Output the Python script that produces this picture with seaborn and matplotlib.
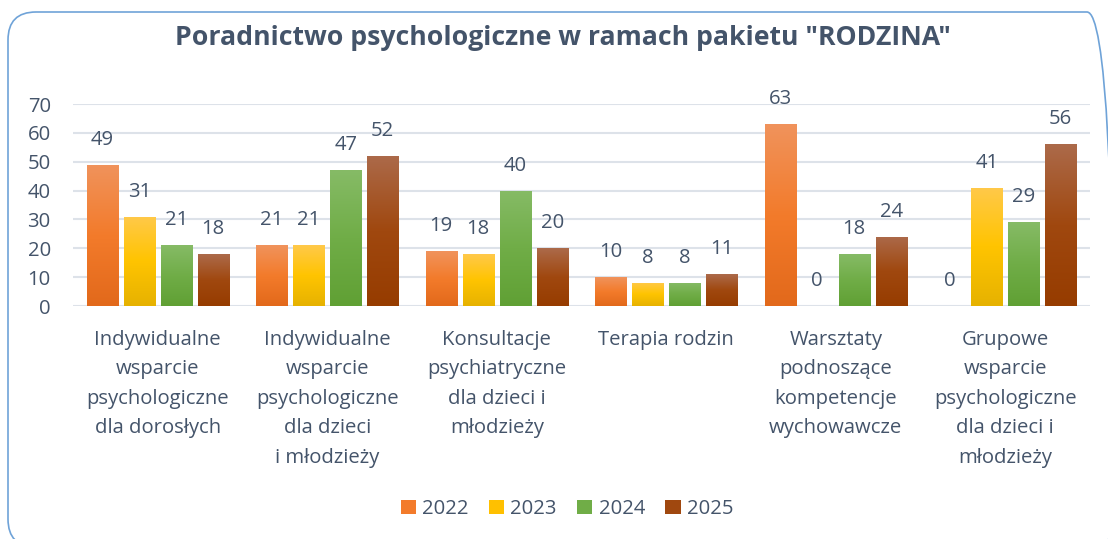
import numpy as np
import pandas as pd
import matplotlib
matplotlib.use("Agg")
import matplotlib.pyplot as plt
from matplotlib.patches import FancyBboxPatch, Patch
from matplotlib.colors import to_rgb
import seaborn as sns

# ---------------- data ----------------
categories = [
    "Indywidualne\nwsparcie\npsychologiczne\ndla dorosłych",
    "Indywidualne\nwsparcie\npsychologiczne\ndla dzieci\ni młodzieży",
    "Konsultacje\npsychiatryczne\ndla dzieci i\nmłodzieży",
    "Terapia rodzin",
    "Warsztaty\npodnoszące\nkompetencje\nwychowawcze",
    "Grupowe\nwsparcie\npsychologiczne\ndla dzieci i\nmłodzieży",
]
years = ["2022", "2023", "2024", "2025"]
values_2022 = [49, 21, 19, 10, 63, 0]
values_2023 = [31, 21, 18, 8, 0, 41]
values_2024 = [21, 47, 40, 8, 18, 29]
values_2025 = [18, 52, 20, 11, 24, 56]
y_ticks = [0, 10, 20, 30, 40, 50, 60, 70]
title = 'Poradnictwo psychologiczne w ramach pakietu "RODZINA"'

series = {"2022": values_2022, "2023": values_2023,
          "2024": values_2024, "2025": values_2025}
df = pd.DataFrame([
    {"category": c, "year": y, "value": v}
    for y in years for c, v in zip(categories, series[y])
])

# ---------------- style ----------------
base_colors = {"2022": "#F37B2B", "2023": "#FFC000", "2024": "#70AD47", "2025": "#A0480F"}
grad_stops = {
    "2022": ("#F0935C", "#F37B2B", "#E2691B"),
    "2023": ("#FFC94A", "#FFC400", "#E6B200"),
    "2024": ("#86BB66", "#70AD47", "#60A034"),
    "2025": ("#AC6A4A", "#A0480F", "#963C00"),
}
text_color = "#44546A"
grid_color = "#DDE2E9"

sns.set_theme(style="white")
plt.rcParams["font.family"] = ["Open Sans", "DejaVu Sans"]
FS = 14.6

W, H, DPI = 1108, 539, 100
fig = plt.figure(figsize=(W / DPI, H / DPI), dpi=DPI, facecolor="white")

# rounded frame (extends past right / bottom edge as in the reference)
frame = FancyBboxPatch((8 / DPI, -8 / DPI), (1115 - 8) / DPI, (H - 12 + 8) / DPI,
                       boxstyle="round,pad=0,rounding_size=0.28",
                       transform=fig.dpi_scale_trans, facecolor="none",
                       edgecolor="#6FA3D8", linewidth=1.2, zorder=0)
fig.patches.append(frame)

ax = fig.add_axes([73 / W, 1 - 306 / H, (1090 - 73) / W, (306 - 104) / H])

sns.barplot(data=df, x="category", y="value", hue="year", order=categories,
            hue_order=years, palette=base_colors, width=0.873, gap=0.16,
            saturation=1, legend=False, ax=ax, errorbar=None)

ax.set_ylim(0, 70)
xlim = ax.get_xlim()

# gradient fill per bar
def grad_img(stops, n=200):
    c = np.array([to_rgb(s) for s in stops])
    t = np.linspace(0, 1, n)
    img = np.empty((n, 1, 3))
    for k in range(3):
        img[:, 0, k] = np.interp(t, [0, 0.5, 1], c[:, k])
    return img

for yr, cont in zip(years, ax.containers):
    img = grad_img(grad_stops[yr])
    for bar, v in zip(cont, series[yr]):
        bar.set_edgecolor("none")
        x0 = bar.get_x()
        w = bar.get_width()
        h = bar.get_height()
        if h > 0:
            im = ax.imshow(img, extent=[x0, x0 + w, 0, h], origin="upper",
                           aspect="auto", zorder=3, interpolation="bilinear")
            im.set_clip_path(bar)
        ax.annotate(f"{v}", (x0 + w / 2, h), xytext=(0, 25),
                    textcoords="offset pixels", ha="center", va="center",
                    fontsize=FS, color=text_color, zorder=4)

ax.set_xlim(xlim)
ax.set_ylim(0, 70)
ax.set_yticks(y_ticks)
ax.set_yticklabels([str(t) for t in y_ticks])
ax.yaxis.grid(True, color=grid_color, linewidth=1.5, zorder=0)
ax.set_axisbelow(True)
for s in ax.spines.values():
    s.set_visible(False)
ax.tick_params(axis="y", length=0, pad=16, labelsize=FS, labelcolor=text_color)
ax.tick_params(axis="x", length=0, pad=17, labelsize=FS, labelcolor=text_color)
for lbl in ax.get_xticklabels():
    lbl.set_linespacing(1.64)
    lbl.set_verticalalignment("top")
    lbl.set_horizontalalignment("center")
ax.set_xlabel("")
ax.set_ylabel("")
ax.set_facecolor("none")

fig.text(563 / W, 1 - 38 / H, title, ha="center", va="center",
         fontsize=19.2, fontweight="bold", color=text_color)

handles = [Patch(facecolor=base_colors[y], edgecolor="none") for y in years]
fig.legend(handles, years, loc="center", bbox_to_anchor=(567 / W, 1 - 509 / H),
           ncol=4, frameon=False, fontsize=FS, labelcolor=text_color,
           handlelength=0.75, handleheight=0.75, handletextpad=0.31,
           columnspacing=1.0)

fig.savefig("out.png", dpi=DPI, facecolor="white")
